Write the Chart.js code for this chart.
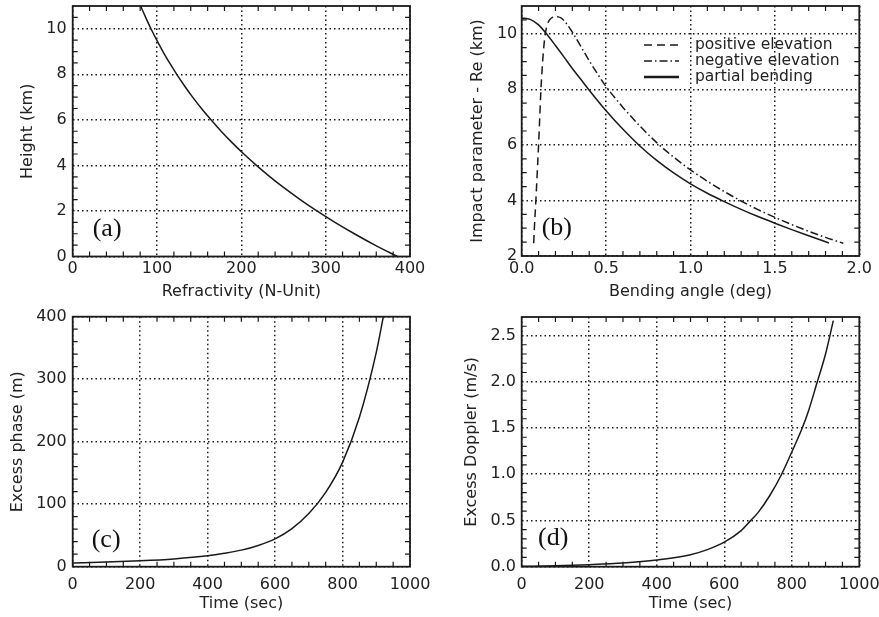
<!DOCTYPE html>
<html><head><meta charset="utf-8">
<script src="https://cdn.jsdelivr.net/npm/chart.js@4.4.1/dist/chart.umd.min.js"></script>
<style>
html,body{margin:0;padding:0;background:#fff;}
#wrap{position:relative;width:879px;height:617px;overflow:hidden;background:#fff;}
canvas{position:absolute;}
</style></head><body>
<div id="wrap">
<canvas id="ca" width="440" height="308" style="left:0;top:0"></canvas>
<canvas id="cb" width="439" height="308" style="left:440px;top:0"></canvas>
<canvas id="cc" width="440" height="309" style="left:0;top:308px"></canvas>
<canvas id="cd" width="439" height="309" style="left:440px;top:308px"></canvas>
</div>
<script>
// ---- Panel (a): refractivity profile ----
const heightKm      = [11, 10.5, 10, 9.5, 9, 8.5, 8, 7.5, 7, 6.5, 6, 5.5, 5, 4.5, 4, 3.5, 3, 2.5, 2, 1.5, 1, 0.5, 0];
const refractivityN = [80.5, 86.5, 92.8, 99.7, 107, 114.9, 123.4, 132.5, 142.2, 152.7, 164, 176, 189, 203, 217.9, 234, 251.2, 269.8, 289.6, 311, 334, 358.5, 385];
const aXTicks = [0, 100, 200, 300, 400];
const aYTicks = [0, 2, 4, 6, 8, 10];

// ---- Panel (b): impact parameter vs bending angle ----
const positiveAngle  = [0.071, 0.075, 0.084, 0.092, 0.100, 0.107, 0.114, 0.124, 0.132, 0.140, 0.150, 0.165, 0.185, 0.210];
const positiveHeight = [2.46, 3.0, 4.0, 5.0, 6.0, 7.0, 8.0, 9.0, 9.6, 10.0, 10.3, 10.5, 10.6, 10.62];
const negativeAngle  = [0.21, 0.23, 0.25, 0.27, 0.30, 0.35, 0.40, 0.45, 0.50, 0.60, 0.70, 0.80, 0.90, 1.00, 1.10, 1.20, 1.30, 1.40, 1.50, 1.60, 1.70, 1.80, 1.905];
const negativeHeight = [10.62, 10.58, 10.48, 10.33, 10.06, 9.55, 9.03, 8.55, 8.1, 7.35, 6.68, 6.08, 5.56, 5.1, 4.69, 4.32, 3.98, 3.67, 3.39, 3.13, 2.89, 2.67, 2.46];
const partialAngle   = [0, 0.05, 0.10, 0.144, 0.20, 0.25, 0.30, 0.35, 0.40, 0.50, 0.60, 0.70, 0.80, 0.90, 1.00, 1.10, 1.20, 1.30, 1.40, 1.50, 1.60, 1.70, 1.82];
const partialHeight  = [10.57, 10.52, 10.32, 10.02, 9.58, 9.17, 8.75, 8.36, 7.97, 7.23, 6.56, 5.96, 5.44, 4.99, 4.6, 4.26, 3.96, 3.68, 3.42, 3.18, 2.95, 2.73, 2.47];
const bXTicks = [0, 0.5, 1.0, 1.5, 2.0];
const bYTicks = [2, 4, 6, 8, 10];
const bLegend = ['positive elevation', 'negative elevation', 'partial bending'];

// ---- Panel (c): excess phase ----
const timeC  = [0, 100, 200, 300, 400, 450, 500, 550, 600, 650, 700, 750, 800, 850, 900, 921];
const phaseC = [6, 7.5, 9.5, 12.5, 17.5, 21.5, 26.5, 34, 44.5, 61, 85, 119, 167, 239, 343, 400];
const cXTicks = [0, 200, 400, 600, 800, 1000];
const cYTicks = [0, 100, 200, 300, 400];

// ---- Panel (d): excess Doppler ----
const timeD    = [0, 100, 200, 300, 400, 500, 550, 600, 650, 676, 700, 735, 770, 800, 831, 850, 874, 900, 923];
const dopplerD = [0.004, 0.01, 0.022, 0.04, 0.073, 0.13, 0.185, 0.265, 0.39, 0.49, 0.585, 0.77, 1.0, 1.24, 1.5, 1.69, 1.98, 2.3, 2.66];
const dXTicks = [0, 200, 400, 600, 800, 1000];
const dYTicks = [0, 0.5, 1.0, 1.5, 2.0, 2.5];

const pts = (xs, ys) => xs.map((x, i) => ({x, y: ys[i]}));
const INK = '#1a1a1a';
const TXT = '#222';
Chart.defaults.font.family = "'DejaVu Sans', 'Liberation Sans', sans-serif";
Chart.defaults.font.size = 16;
Chart.defaults.color = TXT;

const boxPlugin = {
  id: 'idlBox',
  afterDraw(chart, args, o) {
    const {ctx, chartArea: a, scales: {x: xs, y: ys}} = chart;
    ctx.save();
    ctx.strokeStyle = INK;
    ctx.lineWidth = 1.2;
    ctx.setLineDash([]);
    const L = 5;
    ctx.beginPath();
    const drawMinor = (scale, step, majors, horiz) => {
      const n = Math.round((scale.max - scale.min) / step);
      for (let i = 1; i < n; i++) {
        const v = scale.min + i * step;
        if (majors.some(m => Math.abs(m - v) < step * 1e-3)) continue;
        const p = scale.getPixelForValue(v);
        if (horiz) {
          ctx.moveTo(p, a.bottom); ctx.lineTo(p, a.bottom - L);
          ctx.moveTo(p, a.top); ctx.lineTo(p, a.top + L);
        } else {
          ctx.moveTo(a.left, p); ctx.lineTo(a.left + L, p);
          ctx.moveTo(a.right, p); ctx.lineTo(a.right - L, p);
        }
      }
    };
    drawMinor(xs, o.xMinor, o.xMajor, true);
    drawMinor(ys, o.yMinor, o.yMajor, false);
    ctx.stroke();
    ctx.lineWidth = 1.8;
    ctx.strokeRect(a.left, a.top, a.right - a.left, a.bottom - a.top);
    // panel letter
    ctx.fillStyle = '#111';
    ctx.font = "26px 'Liberation Serif', 'Times New Roman', serif";
    ctx.textBaseline = 'middle';
    ctx.textAlign = 'left';
    ctx.fillText(o.letter, o.letterX, o.letterY);
    // legend
    if (o.legend) {
      ctx.font = "15.5px 'DejaVu Sans', sans-serif";
      ctx.fillStyle = TXT;
      o.legend.forEach((it, i) => {
        const y = o.legendY + i * 16;
        ctx.beginPath();
        ctx.lineWidth = it.width;
        ctx.setLineDash(it.dash);
        ctx.moveTo(o.legendLine0, y); ctx.lineTo(o.legendLine1, y);
        ctx.stroke();
        ctx.setLineDash([]);
        ctx.fillText(it.text, o.legendTextX, y);
      });
    }
    ctx.restore();
  }
};

function lineDs(data, dash, label) {
  return {label, data, showLine: true, pointRadius: 0, borderColor: INK, borderWidth: 1.5,
          borderDash: dash, backgroundColor: INK, fill: false, cubicInterpolationMode: 'monotone'};
}

function makeChart(id, c) {
  return new Chart(document.getElementById(id), {
    type: 'scatter',
    data: {datasets: c.datasets},
    options: {
      responsive: false, animation: false, devicePixelRatio: 1,
      layout: {padding: {top: c.padTop, right: c.padRight, left: 0, bottom: 0}},
      plugins: {legend: {display: false}, tooltip: {enabled: false}, idlBox: c.box},
      scales: {
        x: {
          type: 'linear', position: 'bottom', min: c.xMin, max: c.xMax,
          afterBuildTicks: s => { s.ticks = c.xTicks.map(v => ({value: v})); },
          afterFit: s => { s.height = c.xAxisH; s.paddingLeft = 0; s.paddingRight = 0; },
          ticks: {padding: c.xTickPad, autoSkip: false, maxRotation: 0, color: TXT,
                  callback: c.xFmt || (v => String(v))},
          grid: {drawTicks: false, color: INK, lineWidth: 1.5, borderDash: [1.5, 3]},
          border: {display: false, dash: [1.5, 3]},
          title: {display: true, text: c.xTitle, color: TXT, padding: {top: 0, bottom: c.xTitlePad}}
        },
        y: {
          type: 'linear', position: 'left', min: c.yMin, max: c.yMax,
          afterBuildTicks: s => { s.ticks = c.yTicks.map(v => ({value: v})); },
          afterFit: s => { s.width = c.yAxisW; s.paddingTop = 0; s.paddingBottom = 0; },
          ticks: {padding: c.yTickPad, autoSkip: false, color: TXT,
                  callback: c.yFmt || (v => String(v))},
          grid: {drawTicks: false, color: INK, lineWidth: 1.5, borderDash: [1.5, 3]},
          border: {display: false, dash: [1.5, 3]},
          title: {display: true, text: c.yTitle, color: TXT, padding: {top: c.yTitlePad, bottom: 0}}
        }
      }
    },
    plugins: [boxPlugin]
  });
}

const f1 = v => Number(v).toFixed(1);

makeChart('ca', {
  datasets: [lineDs(pts(refractivityN, heightKm), [], 'Refractivity')],
  xMin: 0, xMax: 400, yMin: 0, yMax: 11, xTicks: aXTicks, yTicks: aYTicks,
  padTop: 6, padRight: 30, yAxisW: 72.7, xAxisH: 51.5,
  xTickPad: 3.2, yTickPad: 6, xTitle: 'Refractivity (N-Unit)', yTitle: 'Height (km)',
  xTitlePad: 6.4, yTitlePad: 18.4,
  box: {xMinor: 20, yMinor: 0.5, xMajor: aXTicks, yMajor: aYTicks, letter: '(a)', letterX: 92.7, letterY: 229}
});

makeChart('cb', {
  datasets: [
    lineDs(pts(positiveAngle, positiveHeight), [8, 5], 'positive elevation'),
    lineDs(pts(negativeAngle, negativeHeight), [8, 3, 1.5, 3], 'negative elevation'),
    lineDs(pts(partialAngle, partialHeight), [], 'partial bending')
  ],
  xMin: 0, xMax: 2, yMin: 2, yMax: 11, xTicks: bXTicks, yTicks: bYTicks,
  padTop: 6, padRight: 19.7, yAxisW: 81.7, xAxisH: 52,
  xTickPad: 3.2, yTickPad: 4.4, xTitle: 'Bending angle (deg)', yTitle: 'Impact parameter - Re (km)',
  xTitlePad: 6.4, yTitlePad: 28.7, xFmt: f1,
  box: {xMinor: 0.1, yMinor: 0.5, xMajor: bXTicks, yMajor: bYTicks, letter: '(b)', letterX: 101.7, letterY: 228,
        legend: [
          {text: bLegend[0], dash: [8, 5], width: 1.5},
          {text: bLegend[1], dash: [8, 3, 1.5, 3], width: 1.5},
          {text: bLegend[2], dash: [], width: 2.5}
        ],
        legendY: 45, legendLine0: 204, legendLine1: 239, legendTextX: 255}
});

makeChart('cc', {
  datasets: [lineDs(pts(timeC, phaseC), [], 'Excess phase')],
  xMin: 0, xMax: 1000, yMin: 0, yMax: 400, xTicks: cXTicks, yTicks: cYTicks,
  padTop: 8.7, padRight: 30, yAxisW: 72.7, xAxisH: 50.3,
  xTickPad: 8.7, yTickPad: 6, xTitle: 'Time (sec)', yTitle: 'Excess phase (m)',
  xTitlePad: 3.4, yTitlePad: 8.7,
  box: {xMinor: 50, yMinor: 20, xMajor: cXTicks, yMajor: cYTicks, letter: '(c)', letterX: 91.7, letterY: 232}
});

makeChart('cd', {
  datasets: [lineDs(pts(timeD, dopplerD), [], 'Excess Doppler')],
  xMin: 0, xMax: 1000, yMin: 0, yMax: 2.7, xTicks: dXTicks, yTicks: dYTicks,
  padTop: 9, padRight: 19.7, yAxisW: 81.7, xAxisH: 50.3,
  xTickPad: 8.7, yTickPad: 5.7, xTitle: 'Time (sec)', yTitle: 'Excess Doppler (m/s)',
  xTitlePad: 3.4, yTitlePad: 22.1, yFmt: f1,
  box: {xMinor: 50, yMinor: 0.1, xMajor: dXTicks, yMajor: dYTicks, letter: '(d)', letterX: 98, letterY: 230}
});
</script>
</body></html>
